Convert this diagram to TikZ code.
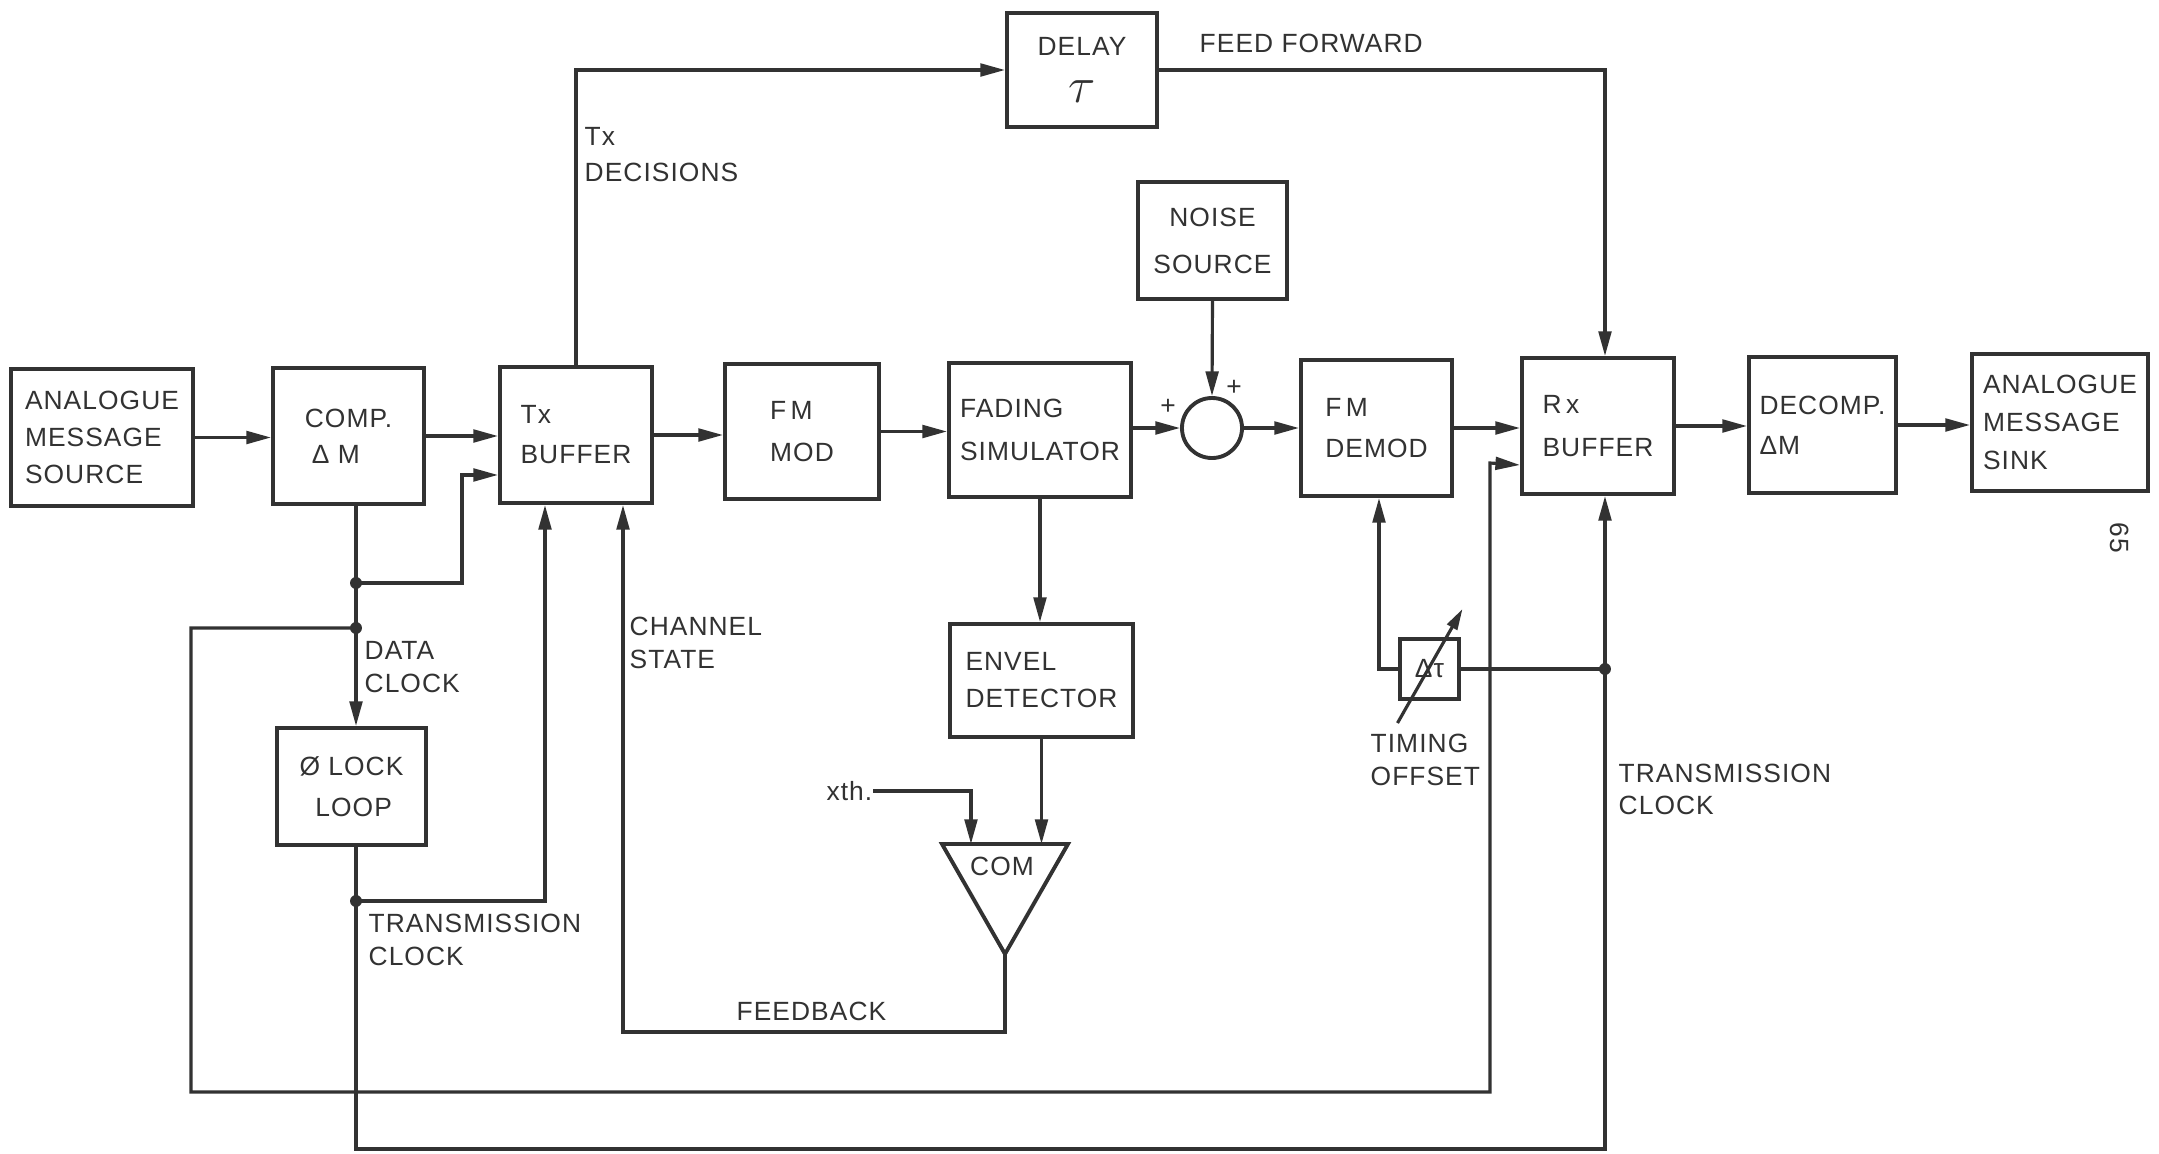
\documentclass[tikz,border=0pt]{standalone}
\usepackage{fontspec}
\setmainfont{Liberation Sans}[LetterSpace=4]
\usetikzlibrary{arrows.meta,calc}
\definecolor{ink}{RGB}{50,50,50}
\newcommand{\lblfont}{\fontsize{7.5}{9.2}\selectfont}
\begin{document}
\begin{tikzpicture}[x=0.01cm,y=-0.01cm,
  every node/.style={text=ink},
  blk/.style={draw=ink, line width=1.1pt, inner sep=0pt, align=left, font=\lblfont},
  lbl/.style={inner sep=0pt, align=left, font=\lblfont},
  wire/.style={draw=ink, line width=0.9pt},
  arr/.style={wire, -{Triangle[length=7pt,width=3.6pt]}},
  dot/.style={circle, fill=ink, inner sep=0pt, minimum size=3.4pt}]
\fill[white] (0,0) rectangle (2159,1154);
\useasboundingbox (0,0) rectangle (2159,1154);

% blocks
\node[blk, minimum width=1.82cm, minimum height=1.37cm] (src) at (102,437.5) {ANALOGUE\\[1.3pt]MESSAGE\\[1.3pt]SOURCE};
\node[blk, minimum width=1.51cm, minimum height=1.36cm] (comp) at (348.5,436) {COMP.\\[1pt]\hspace{2pt}Δ M};
\node[blk, minimum width=1.52cm, minimum height=1.36cm] (txb) at (576,435) {Tx\\[2.2pt]BUFFER};
\node[blk, minimum width=1.54cm, minimum height=1.35cm] (fmmod) at (802,431.5) {F\,M\\[2.8pt]MOD};
\node[blk, minimum width=1.82cm, minimum height=1.34cm] (fad) at (1040,430) {FADING\\[3pt]SIMULATOR};
\node[draw=ink, line width=1.1pt, circle, minimum size=0.6cm, inner sep=0pt] (sum) at (1212,428) {};
\node[blk, align=center, minimum width=1.49cm, minimum height=1.17cm] (noise) at (1212.5,240.5) {NOISE\\[4.2pt]SOURCE};
\node[blk, align=center, minimum width=1.5cm, minimum height=1.14cm] (delay) at (1082,70) {DELAY\\[4pt]{\fontsize{15}{15}\selectfont$\tau$}};
\node[blk, minimum width=1.51cm, minimum height=1.36cm] (demod) at (1376.5,428) {F\,M\\[2.5pt]DEMOD};
\node[blk, minimum width=1.52cm, minimum height=1.36cm] (rxb) at (1598,426) {R\,x\\[3pt]BUFFER};
\node[blk, minimum width=1.47cm, minimum height=1.36cm] (decomp) at (1822.5,425) {DECOMP.\\[2.2pt]ΔM};
\node[blk, minimum width=1.76cm, minimum height=1.37cm] (sink) at (2060,422.5) {ANALOGUE\\[1.6pt]MESSAGE\\[1.6pt]SINK};
\node[blk, minimum width=1.83cm, minimum height=1.13cm] (env) at (1041.5,680.5) {ENVEL\\[1.3pt]DETECTOR};
\node[blk, minimum width=1.49cm, minimum height=1.17cm] (pll) at (351.5,786.5) {Ø LOCK\\[2.5pt]\hspace{4.5pt}LOOP};
\node[blk, minimum width=0.59cm, minimum height=0.6cm] (dtau) at (1429.5,669) {Δτ};

% comparator
\coordinate (comTL) at (942,844);
\coordinate (comTR) at (1068,844);
\coordinate (comA) at (1005,954);
\draw[wire, line width=1.1pt] (comTL) -- (comTR) -- (comA) -- cycle;
\node[lbl] (com) at (1002,866) {COM};

% junctions
\node[dot] (j1) at (356,583) {};
\node[dot] (j2) at (356,628) {};
\node[dot] (j3) at (356,901) {};
\node[dot] (j4) at (1605,669) {};

% main chain
\draw[arr] (src.east) -- (src.east -| comp.west);
\draw[arr] (comp.east) -- (comp.east -| txb.west);
\draw[arr] (txb.east) -- (txb.east -| fmmod.west);
\draw[arr] (fmmod.east) -- (fmmod.east -| fad.west);
\draw[arr] (fad.east |- sum) -- (sum.west);
\draw[arr] (noise.south) -- (sum.north);
\draw[arr] (sum.east) -- (sum.east -| demod.west);
\draw[arr] (demod.east) -- (demod.east -| rxb.west);
\draw[arr] (rxb.east) -- (rxb.east -| decomp.west);
\draw[arr] (decomp.east) -- (decomp.east -| sink.west);

% clocks
\draw[wire] (comp.south -| j1) -- (j1.center) -- (j2.center);
\draw[arr] (j2.center) -- (pll.north -| j2);
\draw[arr] (j1.center) -| ($(txb.south west)+(-36,-30)$) -- ($(txb.south west)+(0,-30)$);
\draw[arr] (j2.center) -| (191,1092) -| (1490,463) -- ($(rxb.south west)+(0,-31)$);
\draw[wire] (pll.south -| j3) -- (j3.center);
\draw[arr] (j3.center) -| ($(txb.south)+(-31,0)$);
\draw[arr] (j3.center) |- (1605,1149) -- (j4.center) -- ($(rxb.south)+(7,0)$);
\draw[wire] (dtau.east) -- (j4.center);
\draw[arr] (dtau.west) -| ($(demod.south)+(2.5,0)$);
\draw[wire, -{Triangle[length=6pt,width=3.2pt]}] ($(dtau)+(-32,54)$) -- ($(dtau)+(33,-60)$);

% decisions / feed forward
\draw[arr] (txb.north) |- (delay.west);
\draw[arr] (delay.east) -| ($(rxb.north)+(7,0)$);

% channel state path
\draw[arr] (fad.south) -- (fad.south |- env.north);
\draw[arr] (env.south) -- (env.south |- comTL);
\node[lbl, anchor=east] (xth) at (873,791) {xth.};
\draw[arr] (xth.east) -| ($(comTL)!0.23!(comTR)$);
\draw[arr] (comA) |- (623,1032) -- ($(txb.south)+(47,0)$);

% labels
\node[lbl, anchor=north west] (datalbl) at (364,641) {DATA\\CLOCK};
\node[lbl, anchor=north west] (tclk1) at (368,913) {TRANSMISSION\\[0.2pt]CLOCK};
\node[lbl, anchor=north west] (chst) at (629,616) {CHANNEL\\[0.2pt]STATE};
\node[lbl, anchor=north west] (txdec) at (584,127) {Tx\\[0.8pt]DECISIONS};
\node[lbl, anchor=north west] (ffwd) at (1199,33.5) {FEED FORWARD};
\node[lbl, anchor=north west] (fb) at (736,1001.5) {FEEDBACK};
\node[lbl, anchor=north west] (tofs) at (1370,733.5) {TIMING\\[0.2pt]OFFSET};
\node[lbl, anchor=north west] (tclk2) at (1618,763.5) {TRANSMISSION\\CLOCK};
\node[lbl] (plus1) at (1168,407) {+};
\node[lbl] (plus2) at (1234,388) {+};
\node[lbl, rotate=-90] (pg) at (2120,538) {65};
\end{tikzpicture}
\end{document}
